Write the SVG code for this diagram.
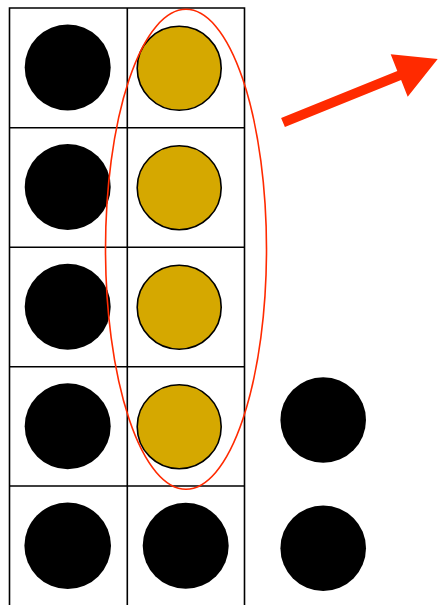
<svg xmlns="http://www.w3.org/2000/svg" width="438" height="605" viewBox="0 0 438 605">
<style>
.grid{stroke:#000;stroke-width:1.6;fill:none}
.blk{fill:#000}
.gld{fill:#d5a800;stroke:#000;stroke-width:1.6}
.sel{fill:none;stroke:#ff2a00;stroke-width:1.6}
.arr{fill:#ff2a00}
</style>
<rect width="438" height="605" fill="#fff"/>
<g id="grid" class="grid">
<path d="M9.5,605 V8 H244.5 V605 M127.3,8 V605 M9.5,127.7 H244.5 M9.5,247.3 H244.5 M9.5,366.8 H244.5 M9.5,486 H244.5"/>
</g>
<g id="c1r1"><circle class="blk" cx="67.7" cy="67.5" r="43"/></g>
<g id="c1r2"><circle class="blk" cx="67.7" cy="187" r="43"/></g>
<g id="c1r3"><circle class="blk" cx="67.7" cy="306.8" r="43"/></g>
<g id="c1r4"><circle class="blk" cx="67.7" cy="426.3" r="43"/></g>
<g id="c1r5"><circle class="blk" cx="67.7" cy="545.8" r="43.3"/></g>
<g id="c2r1"><circle class="gld" cx="179.2" cy="68.3" r="42"/></g>
<g id="c2r2"><circle class="gld" cx="179.2" cy="187.7" r="42"/></g>
<g id="c2r3"><circle class="gld" cx="179.2" cy="307.2" r="42"/></g>
<g id="c2r4"><circle class="gld" cx="179.2" cy="426.7" r="42"/></g>
<g id="c2r5"><circle class="blk" cx="185.7" cy="545.8" r="43"/></g>
<g id="c3r4"><circle class="blk" cx="323.2" cy="420" r="42.8"/></g>
<g id="c3r5"><circle class="blk" cx="323.2" cy="548.2" r="42.8"/></g>
<g id="selection"><ellipse class="sel" cx="186" cy="249.3" rx="80.5" ry="240"/></g>
<g id="connectors">
<polygon class="arr" points="281.1,117.9 397.3,70.9 390.7,54.3 437.7,59 407.7,96.7 401.1,80.1 284.9,127.1"/>
</g>
</svg>
